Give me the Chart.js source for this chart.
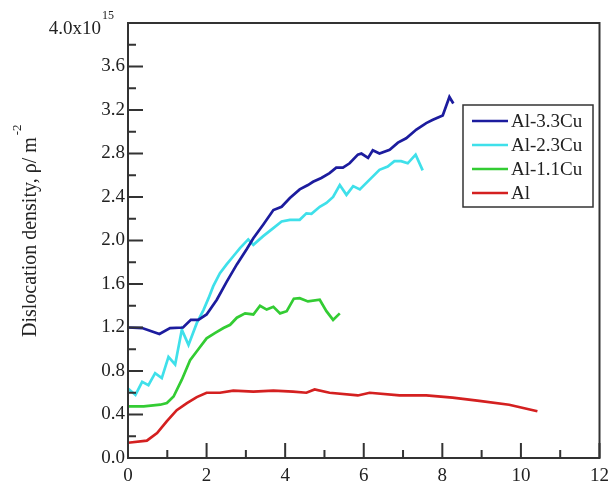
<!DOCTYPE html>
<html><head><meta charset="utf-8">
<script src="https://cdn.jsdelivr.net/npm/chart.js@4.4.1/dist/chart.umd.min.js"></script>
<style>html,body{margin:0;padding:0;background:#fff;}#wrap{width:616px;height:485px;}</style>
</head><body><div id="wrap"><canvas id="c" width="616" height="485"></canvas></div>
<script>
const seriesNames = ['Al-3.3Cu', 'Al-2.3Cu', 'Al-1.1Cu', 'Al'];
const seriesColors = ['#1c1c9e', '#3fe0ea', '#33cc33', '#d42020'];

const al33X = [0, 0.36, 0.8, 1.07, 1.4, 1.6, 1.79, 2.0, 2.26, 2.51, 2.77, 3.02, 3.19, 3.44, 3.70, 3.91, 4.12, 4.37, 4.58, 4.71, 4.92, 5.13, 5.30, 5.47, 5.64, 5.85, 5.94, 6.11, 6.23, 6.40, 6.66, 6.87, 7.08, 7.34, 7.59, 7.76, 8.01, 8.18, 8.28];
const al33Y = [1.20, 1.195, 1.14, 1.195, 1.20, 1.27, 1.27, 1.32, 1.455, 1.62, 1.78, 1.92, 2.02, 2.145, 2.28, 2.31, 2.39, 2.47, 2.51, 2.54, 2.575, 2.62, 2.67, 2.67, 2.71, 2.79, 2.80, 2.76, 2.83, 2.80, 2.835, 2.90, 2.94, 3.02, 3.08, 3.11, 3.15, 3.32, 3.26];

const al23X = [0, 0.19, 0.36, 0.52, 0.69, 0.86, 1.03, 1.20, 1.37, 1.54, 1.75, 1.92, 2.05, 2.17, 2.34, 2.51, 2.68, 2.85, 3.06, 3.19, 3.44, 3.65, 3.91, 4.12, 4.37, 4.54, 4.67, 4.88, 5.05, 5.22, 5.39, 5.56, 5.73, 5.90, 6.15, 6.40, 6.61, 6.78, 6.95, 7.12, 7.32, 7.50];
const al23Y = [0.64, 0.58, 0.70, 0.67, 0.78, 0.735, 0.93, 0.86, 1.18, 1.04, 1.24, 1.36, 1.47, 1.58, 1.70, 1.78, 1.855, 1.93, 2.01, 1.96, 2.04, 2.10, 2.175, 2.19, 2.19, 2.25, 2.245, 2.31, 2.345, 2.40, 2.51, 2.42, 2.50, 2.47, 2.56, 2.65, 2.68, 2.73, 2.73, 2.71, 2.79, 2.645];

const al11X = [0, 0.40, 0.82, 0.99, 1.16, 1.37, 1.58, 1.79, 2.0, 2.22, 2.43, 2.60, 2.77, 2.98, 3.19, 3.36, 3.53, 3.70, 3.87, 4.04, 4.22, 4.37, 4.58, 4.88, 5.05, 5.22, 5.39];
const al11Y = [0.475, 0.475, 0.49, 0.505, 0.565, 0.72, 0.90, 1.0, 1.10, 1.15, 1.195, 1.225, 1.29, 1.33, 1.32, 1.40, 1.365, 1.39, 1.33, 1.35, 1.465, 1.47, 1.44, 1.455, 1.35, 1.27, 1.33];

const alX = [0, 0.48, 0.74, 0.99, 1.24, 1.50, 1.75, 2.0, 2.34, 2.68, 3.19, 3.70, 4.20, 4.54, 4.75, 5.13, 5.85, 6.15, 6.91, 7.59, 8.26, 8.94, 9.70, 10.42];
const alY = [0.14, 0.16, 0.23, 0.34, 0.44, 0.505, 0.56, 0.60, 0.60, 0.62, 0.61, 0.62, 0.61, 0.60, 0.63, 0.60, 0.575, 0.60, 0.575, 0.575, 0.555, 0.525, 0.49, 0.43];

const xMin = 0, xMax = 12, xStep = 2;
const yMin = 0, yMax = 4, yStep = 0.4;
const yTopLabel = '4.0x10';
const yTopExponent = '15';
const yTitleText = 'Dislocation density, \u03C1/ m';
const yTitleExponent = '-2';

const FONT = '"Liberation Serif", "Times New Roman", serif';
const xs = [al33X, al23X, al11X, alX];
const ys = [al33Y, al23Y, al11Y, alY];

const datasets = seriesNames.map((name, i) => ({
  label: name,
  data: xs[i].map((x, j) => ({x: x, y: ys[i][j]})),
  borderColor: seriesColors[i],
  backgroundColor: seriesColors[i],
  borderWidth: 2.7,
  pointRadius: 0,
  tension: 0,
  fill: false
}));

const decor = {
  id: 'decor',
  afterDraw(chart) {
    const ctx = chart.ctx;
    const a = chart.chartArea;
    const sx = chart.scales.x, sy = chart.scales.y;
    ctx.save();
    ctx.strokeStyle = '#333';
    ctx.lineWidth = 2;
    ctx.strokeRect(a.left, a.top, a.right - a.left, a.bottom - a.top);
    ctx.beginPath();
    const xt = sx.ticks.map(t => t.value);
    for (let i = 0; i < xt.length; i++) {
      const p = sx.getPixelForValue(xt[i]);
      ctx.moveTo(p, a.bottom); ctx.lineTo(p, a.bottom - 15);
      if (i < xt.length - 1) {
        const m = sx.getPixelForValue((xt[i] + xt[i + 1]) / 2);
        ctx.moveTo(m, a.bottom); ctx.lineTo(m, a.bottom - 8);
      }
    }
    const yt = sy.ticks.map(t => t.value);
    for (let i = 0; i < yt.length; i++) {
      const p = sy.getPixelForValue(yt[i]);
      ctx.moveTo(a.left, p); ctx.lineTo(a.left + 15, p);
      if (i < yt.length - 1) {
        const m = sy.getPixelForValue((yt[i] + yt[i + 1]) / 2);
        ctx.moveTo(a.left, m); ctx.lineTo(a.left + 8, m);
      }
    }
    ctx.stroke();

    ctx.fillStyle = '#222';
    const py = sy.getPixelForValue(yMax);
    ctx.font = '19px ' + FONT;
    ctx.textAlign = 'right';
    ctx.textBaseline = 'middle';
    ctx.fillText(yTopLabel, 101, py + 6);
    ctx.font = '12px ' + FONT;
    ctx.textAlign = 'left';
    ctx.fillText(yTopExponent, 102, py - 7);

    ctx.save();
    ctx.translate(31, 337);
    ctx.rotate(-Math.PI / 2);
    ctx.font = '20px ' + FONT;
    ctx.textAlign = 'left';
    ctx.textBaseline = 'middle';
    const w = ctx.measureText(yTitleText).width;
    ctx.fillText(yTitleText, 0, 0);
    ctx.font = '13px ' + FONT;
    ctx.fillText(yTitleExponent, w + 2, -13);
    ctx.restore();

    const bx = 463, by = 105, bw = 130, bh = 102;
    ctx.fillStyle = '#fff';
    ctx.fillRect(bx, by, bw, bh);
    ctx.lineWidth = 1.5;
    ctx.strokeStyle = '#333';
    ctx.strokeRect(bx, by, bw, bh);
    ctx.font = '19px ' + FONT;
    ctx.textAlign = 'left';
    ctx.textBaseline = 'middle';
    chart.data.datasets.forEach((ds, i) => {
      const yy = 121 + i * 24;
      ctx.strokeStyle = ds.borderColor;
      ctx.lineWidth = 2.7;
      ctx.beginPath(); ctx.moveTo(472, yy); ctx.lineTo(508, yy); ctx.stroke();
      ctx.fillStyle = '#222';
      ctx.fillText(ds.label, 511, yy + 1);
    });
    ctx.restore();
  }
};

new Chart(document.getElementById('c'), {
  type: 'line',
  data: { datasets: datasets },
  options: {
    responsive: false,
    animation: false,
    devicePixelRatio: 1,
    layout: { padding: { top: 23, right: 16, left: 0, bottom: 0 } },
    plugins: { legend: { display: false }, tooltip: { enabled: false } },
    scales: {
      x: {
        type: 'linear', min: xMin, max: xMax,
        ticks: { stepSize: xStep, color: '#222', font: { family: FONT, size: 19 }, padding: 7, maxRotation: 0 },
        grid: { display: false, drawTicks: false },
        border: { display: false },
        afterFit: s => { s.height = 27; }
      },
      y: {
        type: 'linear', min: yMin, max: yMax,
        ticks: {
          stepSize: yStep, color: '#222', font: { family: FONT, size: 19 }, padding: 3,
          callback: v => Math.abs(v - yMax) < 1e-9 ? '' : v.toFixed(1)
        },
        grid: { display: false, drawTicks: false },
        border: { display: false },
        afterFit: s => { s.width = 128; }
      }
    }
  },
  plugins: [decor]
});
</script></body></html>
